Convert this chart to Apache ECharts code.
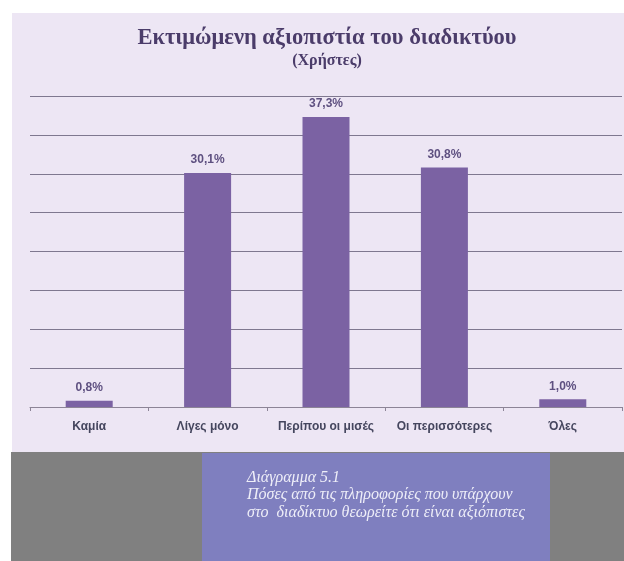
<!DOCTYPE html>
<html>
<head>
<meta charset="utf-8">
<script src="https://cdn.jsdelivr.net/npm/echarts@6/dist/echarts.min.js"></script>
<style>
  html, body { margin: 0; padding: 0; background: #fff; }
  #chart { width: 624px; height: 561px; }
</style>
</head>
<body>
<div id="chart"></div>
<script>
const categories = ['Καμία', 'Λίγες μόνο', 'Περίπου οι μισές', 'Οι περισσότερες', 'Όλες']
const values = [0.8, 30.1, 37.3, 30.8, 1.0]
const titleText = 'Εκτιμώμενη αξιοπιστία του διαδικτύου'
const subtitleText = '(Χρήστες)'
const captionLines = [
  'Διάγραμμα 5.1',
  'Πόσες από τις πληροφορίες που υπάρχουν',
  'στο  διαδίκτυο θεωρείτε ότι είναι αξιόπιστες'
]

const myChart = echarts.init(document.getElementById('chart'))

const options = {
  backgroundColor: '#ffffff',
  animation: false,
  graphic: [
    // chart panel
    { type: 'rect', z: -10, shape: { x: 12, y: 13, width: 612, height: 439 }, style: { fill: '#ede6f4' } },
    // grey band at the bottom
    { type: 'rect', z: -10, shape: { x: 11, y: 452, width: 613, height: 109 }, style: { fill: '#808080' } },
    // purple caption box
    { type: 'rect', z: -9, shape: { x: 202, y: 453, width: 348, height: 108 }, style: { fill: '#7f7fbf' } },
    {
      type: 'text',
      left: 247,
      top: 469,
      style: {
        text: captionLines.join('\n'),
        fill: '#eeeef8',
        font: 'italic 16px "Liberation Serif", serif',
        lineHeight: 17.5
      }
    }
  ],
  title: {
    text: titleText,
    subtext: subtitleText,
    left: 322,
    textAlign: 'center',
    top: 22,
    itemGap: 3,
    textStyle: {
      fontFamily: '"Liberation Serif", serif',
      fontWeight: 'bold',
      fontSize: 22.5,
      color: '#4b3c6a'
    },
    subtextStyle: {
      fontFamily: '"Liberation Serif", serif',
      fontWeight: 'bold',
      fontSize: 16,
      color: '#4b3c6a'
    }
  },
  grid: {
    left: 30,
    right: 2,
    top: 96,
    bottom: 154,
    containLabel: false
  },
  xAxis: {
    type: 'category',
    data: categories,
    axisLine: { lineStyle: { color: '#8c8496', width: 1 } },
    axisTick: { show: true, length: 4, lineStyle: { color: '#8c8496' } },
    axisLabel: {
      margin: 14,
      fontFamily: '"Liberation Sans", Arial, sans-serif',
      fontWeight: 'bold',
      fontSize: 12,
      color: '#45465e',
      interval: 0
    }
  },
  yAxis: {
    type: 'value',
    min: 0,
    max: 40,
    interval: 5,
    axisLine: { show: false },
    axisTick: { show: false },
    axisLabel: { show: false },
    splitLine: { lineStyle: { color: '#7f788f', width: 1 } }
  },
  series: [
    {
      type: 'bar',
      data: values,
      barWidth: 47,
      itemStyle: { color: '#7b62a3' },
      label: {
        show: true,
        position: 'top',
        distance: 7,
        fontFamily: '"Liberation Sans", Arial, sans-serif',
        fontWeight: 'bold',
        fontSize: 12,
        color: '#5e5080',
        formatter: p => p.value.toFixed(1).replace('.', ',') + '%'
      }
    }
  ]
}
myChart.setOption(options)
</script>
</body>
</html>
